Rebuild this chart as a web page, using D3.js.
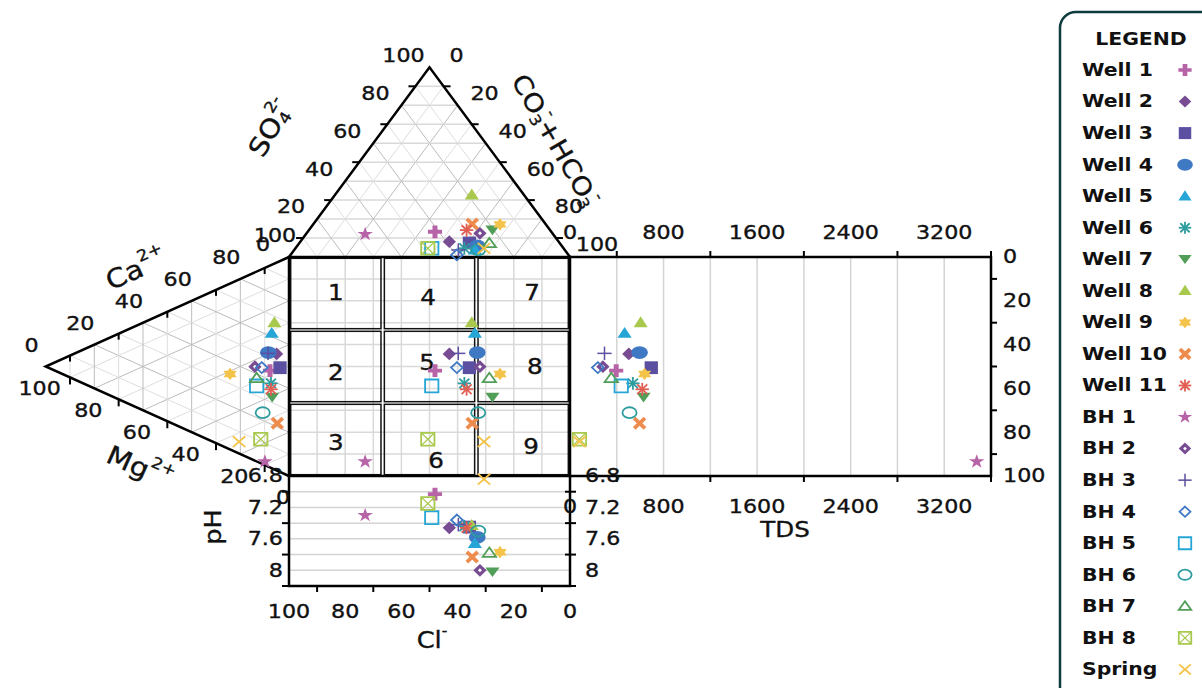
<!DOCTYPE html>
<html>
<head>
<meta charset="utf-8">
<script src="https://cdn.jsdelivr.net/npm/d3@7"></script>
<style>
  body { margin: 0; background: #fff; }
  svg { display: block; font-family: "DejaVu Sans", sans-serif; }
</style>
</head>
<body>
<svg width="1202" height="688"></svg>
<script>
// samples, markers and colours (legend order)
const samples = ["Well 1", "Well 2", "Well 3", "Well 4", "Well 5", "Well 6", "Well 7", "Well 8",
  "Well 9", "Well 10", "Well 11", "BH 1", "BH 2", "BH 3", "BH 4", "BH 5", "BH 6", "BH 7", "BH 8", "Spring"];
const markers = ["plusBold", "diamond", "square", "circle", "triangle", "asterisk", "triangleDown", "triangle",
  "star6", "xBold", "asterisk", "star5", "diamondDot", "plusThin", "diamondOpen", "squareOpen", "circleOpen",
  "triangleOpen", "squareX", "xThin"];
const colors = ["#b763a7", "#774c92", "#5a4fa0", "#3f78c3", "#26a6d6", "#2d9c9f", "#519e58", "#a8c94d",
  "#f4c34a", "#ee8c4e", "#e25d52", "#b763a7", "#774c92", "#5a4fa0", "#3f78c3", "#26a6d6", "#2d9c9f",
  "#519e58", "#a8c94d", "#f4c34a"];

// anions (% meq), Cl = 100 - SO4 - HCO3
const so4 = [13.3, 8.1, 7.4, 5.8, 3.7, 4.6, 14.2, 32.7, 17.2, 17.4, 14.2, 12.0, 12.5, 3.7, 1.1, 4.6, 3.7, 7.2, 4.6, 4.6];
const hco3 = [45.3, 53.0, 60.5, 64.1, 64.3, 60.1, 65.3, 48.7, 66.5, 56.5, 56.1, 21.1, 61.7, 58.4, 59.2, 48.5, 65.5, 67.7, 47.1, 67.1];
// cations (% meq), Na+K = 100 - Ca - Mg
const ca = [44.2, 53.2, 47.6, 52.1, 61.6, 38.6, 32.5, 67.0, 34.5, 21.7, 35.9, 1.6, 42.9, 51.7, 43.9, 34.5, 23.5, 38.0, 11.0, 5.4];
const mg = [7.8, 5.1, 3.7, 8.5, 7.1, 7.4, 6.9, 6.0, 24.2, 4.8, 7.4, 9.9, 14.0, 8.6, 11.2, 13.3, 10.8, 13.3, 11.6, 20.5];
const tds = [395, 503, 695, 595, 467, 538, 629, 604, 638, 595, 618, 3478, 281, 295, 238, 438, 509, 353, 81, 81];
const ph = [7.03, 7.46, 7.45, 7.58, 7.66, 7.44, 8.02, 7.43, 7.77, 7.83, 7.46, 7.30, 8.00, 7.42, 7.36, 7.33, 7.50, 7.78, 7.15, 6.84];

// axis ticks
const triLabels = [0, 20, 40, 60, 80, 100];
const tdsLabels = [0, 800, 1600, 2400, 3200];
const phLabels = [6.8, 7.2, 7.6, 8];
const zoneNames = ["1", "2", "3", "4", "5", "6", "7", "8", "9"];
const zoneX = [16.7, 16.7, 16.7, 49.5, 49.1, 52.3, 86.5, 87.5, 86.1];
const zoneY = [83.6, 47.0, 15.1, 81.3, 51.6, 6.8, 83.6, 49.8, 13.2];

let svg = d3.select("svg");

let xS = d3.scaleLinear().domain([0, 100]).range([289, 570]);
let yS = d3.scaleLinear().domain([0, 100]).range([476, 257]);
let tdsS = d3.scaleLinear().domain([0, 3600]).range([570, 991]);
let phS = d3.scaleLinear().domain([6.8, 8.2]).range([476, 586]);
const H = Math.sqrt(3) / 2;

// composition -> diagram units
const topPt = (so, hc) => [hc + so / 2, 100 + H * so];
const leftPt = (c, m) => [-H * m, c + m / 2];
const P = ([X, Y]) => [xS(X), yS(Y)];

function seg(g, a, b, col, w) {
  g.append("line")
    .attr("x1", a[0]).attr("y1", a[1]).attr("x2", b[0]).attr("y2", b[1])
    .attr("stroke", col).attr("stroke-width", w);
}

function txt(g, x, y, s, o = {}) {
  return g.append("text")
    .attr("transform", `translate(${x},${y}) rotate(${o.rot || 0}) scale(${o.sx || 1.17},1)`)
    .attr("text-anchor", o.anchor || "middle")
    .attr("dominant-baseline", "central")
    .attr("font-size", o.size || 19)
    .attr("font-weight", o.bold ? "bold" : null)
    .attr("fill", "#111")
    .attr("stroke", o.bold ? null : "#111")
    .attr("stroke-width", o.bold ? null : 0.35)
    .text(s);
}

// text with sub / superscripts
function rich(g, x, y, rot, parts, size) {
  let t = g.append("text")
    .attr("transform", `translate(${x},${y}) rotate(${rot}) scale(1.12,1)`)
    .attr("text-anchor", "middle")
    .attr("dominant-baseline", "central")
    .attr("font-size", size)
    .attr("fill", "#111")
    .attr("stroke", "#111").attr("stroke-width", 0.35);
  let cur = 0;
  parts.forEach(p => {
    let target = p[1] == "sub" ? size * 0.3 : p[1] == "sup" ? -size * 0.4 : 0;
    t.append("tspan")
      .attr("dy", target - cur)
      .attr("dx", p[2] || 0)
      .attr("font-size", p[1] == "n" ? size : size * 0.6)
      .text(p[0]);
    cur = target;
  });
}

// ---------- gridlines
let grid = svg.append("g");
d3.range(10, 100, 10).forEach(k => {
  let col = k % 20 ? "#dedede" : "#bcbcbc";
  // top triangle
  seg(grid, P(topPt(k, 0)), P(topPt(k, 100 - k)), "#d9d9d9", 1.5);
  seg(grid, P(topPt(0, k)), P(topPt(100 - k, k)), col, 1);
  seg(grid, P(topPt(0, 100 - k)), P(topPt(100 - k, 0)), col, 1);
  // left triangle
  seg(grid, P(leftPt(0, k)), P(leftPt(100 - k, k)), col, 1);
  seg(grid, P(leftPt(k, 0)), P(leftPt(k, 100 - k)), col, 1);
  seg(grid, P(leftPt(100 - k, 0)), P(leftPt(0, 100 - k)), col, 1);
  // square
  seg(grid, [xS(k), yS(0)], [xS(k), yS(100)], "#d9d9d9", 1.5);
  seg(grid, [xS(0), yS(k)], [xS(100), yS(k)], "#d9d9d9", 1.5);
});
d3.range(400, 3600, 400).forEach(t => seg(grid, [tdsS(t), yS(100)], [tdsS(t), yS(0)], "#d4d4d4", 1.5));
d3.range(7.0, 8.1, 0.2).forEach(p => seg(grid, [xS(0), phS(p)], [xS(100), phS(p)], "#d4d4d4", 1.5));

// ---------- zone boxes
let zones = svg.append("g");
const third = 100 / 3;
for (let i = 0; i < 3; i++) {
  for (let j = 0; j < 3; j++) {
    let x0 = xS(i * third + 0.6), x1 = xS((i + 1) * third - 0.6);
    let y0 = yS(100 - j * third - 0.6), y1 = yS(100 - (j + 1) * third + 0.6);
    zones.append("rect")
      .attr("x", x0).attr("y", y0)
      .attr("width", x1 - x0).attr("height", y1 - y0)
      .attr("fill", "none").attr("stroke", "#111").attr("stroke-width", 1.5);
  }
}
zoneNames.forEach((n, i) => txt(zones, xS(zoneX[i]), yS(zoneY[i]), n, { size: 21 }));

// ---------- axes
let axes = svg.append("g").attr("fill", "none").attr("stroke", "#000").attr("stroke-width", 2.5);
let line = d3.line();
axes.append("path").attr("d", line([P(topPt(0, 0)), P(topPt(100, 0)), P(topPt(0, 100))]));
axes.append("path").attr("d", line([P(leftPt(100, 0)), P(leftPt(0, 100)), P(leftPt(0, 0))]));
axes.append("rect").attr("x", xS(0)).attr("y", yS(100))
  .attr("width", xS(100) - xS(0)).attr("height", yS(0) - yS(100));
axes.append("path").attr("d", line([[tdsS(0), yS(100)], [tdsS(3600), yS(100)], [tdsS(3600), yS(0)], [tdsS(0), yS(0)]]));
axes.append("path").attr("d", line([[xS(0), phS(6.8)], [xS(0), phS(8.2)], [xS(100), phS(8.2)], [xS(100), phS(6.8)]]));

// tick marks
let tk = svg.append("g");
[10, 30, 50, 70, 90].forEach(v => {
  let a = P(topPt(v, 0));
  seg(tk, [a[0] - 7, a[1]], a, "#000", 2);
  let b = P(topPt(100 - v, v));
  seg(tk, b, [b[0] + 7, b[1]], "#000", 2);
  let c = P(leftPt(v, 100 - v));
  seg(tk, c, [c[0], c[1] + 6], "#000", 2);
  let d = P(leftPt(0, v));
  seg(tk, d, [d[0], d[1] + 7], "#000", 2);
  seg(tk, [xS(v), phS(8.2)], [xS(v), phS(8.2) + 6], "#000", 2);
  seg(tk, [tdsS(3600), yS(v)], [tdsS(3600) + 6, yS(v)], "#000", 2);
});
[400, 1200, 2000, 2800, 3600].forEach(t => {
  seg(tk, [tdsS(t), yS(100) - 6], [tdsS(t), yS(100)], "#000", 2);
  seg(tk, [tdsS(t), yS(0)], [tdsS(t), yS(0) + 6], "#000", 2);
});
[7.0, 7.4, 7.8, 8.2].forEach(p => {
  seg(tk, [xS(0) - 7, phS(p)], [xS(0), phS(p)], "#000", 2);
  seg(tk, [xS(100) - 5, phS(p)], [xS(100) + 6, phS(p)], "#000", 2);
});

// ---------- tick labels
let lab = svg.append("g");
triLabels.forEach(v => {
  let a = P(topPt(v, 0));
  txt(lab, a[0] - 26, a[1] - 12, v);
  let b = P(topPt(100 - v, v));
  txt(lab, b[0] + 27, b[1] - 12, v);
  let c = P(leftPt(v, 100 - v));
  txt(lab, c[0] - 14, c[1] - 21, v);
  let d = P(leftPt(0, v));
  txt(lab, d[0] - 6, d[1] + 22, v);
  txt(lab, xS(100 - v), 612, v);
  txt(lab, tdsS(3600) + 12, yS(100 - v), v, { anchor: "start" });
});
tdsLabels.forEach(t => {
  txt(lab, tdsS(t), 233, t);
  txt(lab, tdsS(t), 507, t);
});
phLabels.forEach(p => {
  txt(lab, xS(0) - 6, phS(p), p, { anchor: "end" });
  txt(lab, xS(100) + 15, phS(p), p, { anchor: "start" });
});

// axis titles
rich(lab, 270, 128, -60, [["SO", "n"], ["4", "sub"], ["2-", "sup", -8]], 26);
rich(lab, 556, 140, 60, [["CO", "n"], ["3", "sub"], ["-", "sup", -6], ["+HCO", "n"], ["3", "sub"], ["-", "sup", -6]], 25);
rich(lab, 136, 269, -24, [["Ca", "n"], ["2+", "sup"]], 26);
rich(lab, 140, 467, 24, [["Mg", "n"], ["2+", "sup"]], 26);
rich(lab, 213, 527, -90, [["pH", "n"]], 23);
rich(lab, 432, 640, 0, [["Cl", "n"], ["-", "sup"]], 23);
txt(lab, 785, 530, "TDS", { size: 21 });

// ---------- markers
function shape(g, type, c, r) {
  let m = g.append("g").attr("transform", "scale(1.3,1)");
  let path = d => m.append("path").attr("d", d);
  let ln = (x1, y1, x2, y2, w) => m.append("line")
    .attr("x1", x1).attr("y1", y1).attr("x2", x2).attr("y2", y2)
    .attr("stroke", c).attr("stroke-width", w)
    .attr("vector-effect", "non-scaling-stroke");
  let open = s => s.attr("fill", "none").attr("stroke", c).attr("stroke-width", 1.8)
    .attr("vector-effect", "non-scaling-stroke");
  let dia = `M0,${-r}L${r * 0.8},0L0,${r}L${-r * 0.8},0Z`;
  let sq = `M${-r * 0.8},${-r}H${r * 0.8}V${r}H${-r * 0.8}Z`;
  let tri = `M0,${-r}L${r * 0.85},${r * 0.7}L${-r * 0.85},${r * 0.7}Z`;
  if (type == "plusBold") {
    let a = r * 0.3, b = r * 0.85;
    path(`M${-a},${-r}H${a}V${-a}H${b}V${a}H${a}V${r}H${-a}V${a}H${-b}V${-a}H${-a}Z`).attr("fill", c);
  } else if (type == "diamond") {
    path(dia).attr("fill", c);
  } else if (type == "square") {
    path(sq).attr("fill", c);
  } else if (type == "circle") {
    m.append("circle").attr("r", r).attr("fill", c);
  } else if (type == "triangle") {
    path(tri).attr("fill", c);
  } else if (type == "triangleDown") {
    path(`M0,${r * 0.8}L${r * 0.85},${-r * 0.7}L${-r * 0.85},${-r * 0.7}Z`).attr("fill", c);
  } else if (type == "asterisk") {
    ln(0, -r, 0, r, 1.8);
    ln(-r * 0.8, 0, r * 0.8, 0, 1.8);
    ln(-r * 0.6, -r * 0.75, r * 0.6, r * 0.75, 1.8);
    ln(-r * 0.6, r * 0.75, r * 0.6, -r * 0.75, 1.8);
  } else if (type == "star6") {
    let w = r * 0.8;
    path(`M0,${-r}L${w},${r * 0.5}L${-w},${r * 0.5}Z`).attr("fill", c);
    path(`M0,${r}L${w},${-r * 0.5}L${-w},${-r * 0.5}Z`).attr("fill", c);
  } else if (type == "xBold") {
    ln(-r * 0.65, -r * 0.8, r * 0.65, r * 0.8, 3.8);
    ln(-r * 0.65, r * 0.8, r * 0.65, -r * 0.8, 3.8);
  } else if (type == "xThin") {
    ln(-r * 0.75, -r * 0.85, r * 0.75, r * 0.85, 1.8);
    ln(-r * 0.75, r * 0.85, r * 0.75, -r * 0.85, 1.8);
  } else if (type == "star5") {
    m.append("path").attr("d", d3.symbol().type(d3.symbolStar).size(r * r * 1.5)())
      .attr("transform", "scale(0.85,1)").attr("fill", c);
  } else if (type == "diamondDot") {
    path(dia).attr("fill", c);
    let s = r * 0.3;
    path(`M0,${-s}L${s * 0.8},0L0,${s}L${-s * 0.8},0Z`).attr("fill", "#fff");
  } else if (type == "plusThin") {
    ln(-r * 0.85, 0, r * 0.85, 0, 1.5);
    ln(0, -r * 1.05, 0, r * 1.05, 1.5);
  } else if (type == "diamondOpen") {
    open(path(`M0,${-r * 0.85}L${r * 0.7},0L0,${r * 0.85}L${-r * 0.7},0Z`));
  } else if (type == "squareOpen") {
    open(path(sq));
  } else if (type == "circleOpen") {
    open(m.append("circle").attr("r", r * 0.85));
  } else if (type == "triangleOpen") {
    open(path(`M0,${-r * 0.85}L${r * 0.8},${r * 0.6}L${-r * 0.8},${r * 0.6}Z`));
  } else if (type == "squareX") {
    open(path(sq));
    ln(-r * 0.8, -r, r * 0.8, r, 1.3);
    ln(-r * 0.8, r, r * 0.8, -r, 1.3);
  }
}

let pts = svg.append("g");
samples.forEach((name, i) => {
  let X = hco3[i] + so4[i] / 2;
  let Y = ca[i] + mg[i] / 2;
  let spots = [
    P(topPt(so4[i], hco3[i])),
    P(leftPt(ca[i], mg[i])),
    [xS(X), yS(Y)],
    [tdsS(tds[i]), yS(Y)],
    [xS(X), phS(ph[i])]
  ];
  spots.forEach(s => {
    let g = pts.append("g").attr("transform", `translate(${s[0]},${s[1]})`);
    shape(g, markers[i], colors[i], 6.4);
  });
});

// ---------- legend
let legend = svg.append("g");
legend.append("rect")
  .attr("x", 1060).attr("y", 12).attr("width", 170).attr("height", 700).attr("rx", 16)
  .attr("fill", "#fff").attr("stroke", "#0e3b3d").attr("stroke-width", 2.5);
txt(legend, 1141, 39, "LEGEND", { size: 17, bold: true, sx: 1.2 });
samples.forEach((name, i) => {
  let y = 70 + i * 31.55;
  txt(legend, 1082, y, name, { size: 17, bold: true, sx: 1.2, anchor: "start" });
  let g = legend.append("g").attr("transform", `translate(1185,${y})`);
  shape(g, markers[i], colors[i], 6);
});
</script>
</body>
</html>
